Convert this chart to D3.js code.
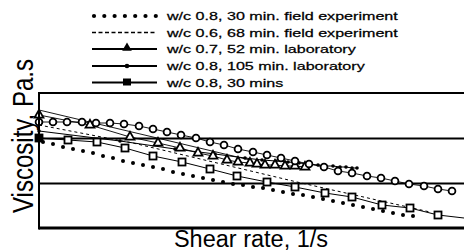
<!DOCTYPE html>
<html><head><meta charset="utf-8">
<script src="https://cdn.jsdelivr.net/npm/d3@7"></script>
<style>
body{margin:0;background:#fff}
svg{display:block}
text{font-family:"Liberation Sans",Arial,sans-serif;fill:#000}
</style>
</head><body>
<svg id="c" width="464" height="251"></svg>
<script>
// ---- data (shear rate in arbitrary units, viscosity in arbitrary units) ----
const legendLabels = [
  "w/c 0.8, 30 min. field experiment",
  "w/c 0.6, 68 min. field experiment",
  "w/c 0.7, 52 min. laboratory",
  "w/c 0.8, 105 min. laboratory",
  "w/c 0.8, 30 mins"
];
const xLabel = "Shear rate, 1/s";
const yLabel = "Viscosity, Pa.s";
const gridValues = [45, 90];

const field30X = [4,14,24,34,44,54,64,74,84,94,104,114,124,134,144,154,164,174,184,194,204,214,224,234,244,254,264,274,284,294,304,314,324,334,344,354,364,374];
const field30Y = [86,84,81,79,77,75,72,70,67,65,63,61,59,56,54,52,50,48,46,44,43,41,40,38,36,34,33,31,29,27,25,23,21,19,17,15,13,12];

const field68X = [0,94,258,391];
const field68Y = [103,85,46,16];

const lab52X = [0,51,91,119,141,159,174,188,199,211,218,226,236,246,256,266];
const lab52Y = [113,103,91,85,80,75,72,68,66,65,64,63,63,62,62,61];
const lab52FitX = [0,211];
const lab52FitY = [118,68];

const lab105X = [0,81,136,176,206,223,237,249,260,270,279,287,294,301,307,313,318];
const lab105Y = [97,87,79,74,70,68,67,66,65,64,63,62,62,61,61,60,60];

const mins30X = [0,29,58,86,114,143,171,198,228,256,286,313,343,371,399,425];
const mins30Y = [90,88,86,80,72,66,59,52,46,41,35,31,23,20,13,10];
const mins30Markers = 15; // last point is the line end, no marker

const circX = [0,14,28,43,57,71,85,100,114,128,142,157,171,185,199,214,228,242,256,270,285,299,313,328,342,356,370,385,399,413];
const circY = [106,106,106,106,105,105,104,102,99,96,93,90,86,83,79,76,73,70,67,64,61,57,55,52,50,47,44,42,39,37];

// ---- drawing ----
const svg = d3.select("#c");
const x = d3.scaleLinear().domain([0,425]).range([39,464]);
const y = d3.scaleLinear().domain([0,135]).range([228,93]);
const zip = (a,b) => a.map((v,i)=>[v,b[i]]);
const line = d3.line().x(d=>x(d[0])).y(d=>y(d[1]));

// grid lines
svg.append("g").attr("transform","translate(39,0)")
  .call(d3.axisLeft(y).tickValues(gridValues).tickSize(-425).tickFormat(""))
  .call(g=>g.select(".domain").remove())
  .call(g=>g.selectAll("line").attr("stroke","#000").attr("stroke-width",2));

const plot = svg.append("g");

// thin lines
plot.append("path").attr("d", line(zip(circX,circY))).attr("fill","none").attr("stroke","#000").attr("stroke-width",0.9);
plot.append("path").attr("d", line(zip(lab52FitX,lab52FitY))).attr("fill","none").attr("stroke","#000").attr("stroke-width",0.9);
plot.append("path").attr("d", line(zip(lab52X,lab52Y))).attr("fill","none").attr("stroke","#000").attr("stroke-width",0.9);
plot.append("path").attr("d", line(zip(lab105X,lab105Y))).attr("fill","none").attr("stroke","#000").attr("stroke-width",1.2);
plot.append("path").attr("d", line(zip(mins30X,mins30Y))).attr("fill","none").attr("stroke","#000").attr("stroke-width",1);
plot.append("path").attr("d", line(zip(field68X,field68Y))).attr("fill","none").attr("stroke","#000").attr("stroke-width",1).attr("stroke-dasharray","3,3");

// field 30 dots
plot.selectAll(".fd").data(zip(field30X,field30Y)).join("circle")
  .attr("cx",d=>x(d[0])).attr("cy",d=>y(d[1])).attr("r",2).attr("fill","#000");

// 105 markers
plot.selectAll(".m105").data(zip(lab105X,lab105Y)).join("circle")
  .attr("cx",d=>x(d[0])).attr("cy",d=>y(d[1])).attr("r",1.8).attr("fill","#000");

// triangles
const tri = d3.symbol().type(d3.symbolTriangle).size(34);
plot.selectAll(".tr").data(zip(lab52X,lab52Y)).join("path")
  .attr("d",tri).attr("transform",d=>`translate(${x(d[0])},${y(d[1])})`)
  .attr("fill","#fff").attr("stroke","#000").attr("stroke-width",1.8);

// squares
plot.selectAll(".sq").data(zip(mins30X,mins30Y).slice(0,mins30Markers)).join("rect")
  .attr("x",d=>x(d[0])-3.5).attr("y",d=>y(d[1])-3.5).attr("width",7).attr("height",7)
  .attr("fill",(d,i)=>i===0?"#000":"#fff").attr("stroke","#000").attr("stroke-width",1.8);

// circles
plot.selectAll(".ci").data(zip(circX,circY)).join("circle")
  .attr("cx",d=>x(d[0])).attr("cy",d=>y(d[1])).attr("r",3.4)
  .attr("fill","#fff").attr("stroke","#000").attr("stroke-width",1.8);

// frame
svg.append("line").attr("x1",x(0)).attr("x2",x(425)).attr("y1",y(135)).attr("y2",y(135)).attr("stroke","#000").attr("stroke-width",2);
svg.append("line").attr("x1",x(0)).attr("x2",x(425)).attr("y1",y(0)).attr("y2",y(0)).attr("stroke","#000").attr("stroke-width",3);
svg.append("line").attr("x1",x(0)).attr("x2",x(0)).attr("y1",y(135)-1).attr("y2",y(0)+1.5).attr("stroke","#000").attr("stroke-width",2);

// axis labels
svg.append("text").attr("x",251).attr("y",247).attr("text-anchor","middle")
  .attr("font-size",23.5).text(xLabel);
svg.append("text").attr("transform","translate(33,136) rotate(-90) scale(0.83,1)")
  .attr("text-anchor","middle").attr("font-size",29).text(yLabel);

// legend
const rowY = [16, 32.5, 49, 66, 82.5];
const lg = svg.append("g");
legendLabels.forEach((lab,i)=>{
  const cy = rowY[i];
  const g = lg.append("g");
  if(i===0){
    g.selectAll("circle").data(d3.range(7)).join("circle")
      .attr("cx",k=>94+k*10.3).attr("cy",cy).attr("r",2.1).attr("fill","#000");
  } else if(i===1){
    g.append("line").attr("x1",92).attr("x2",157).attr("y1",cy).attr("y2",cy)
      .attr("stroke","#000").attr("stroke-width",1.5).attr("stroke-dasharray","4,2.5");
  } else {
    g.append("line").attr("x1",92).attr("x2",157).attr("y1",cy).attr("y2",cy)
      .attr("stroke","#000").attr("stroke-width",1.8);
    if(i===2) g.append("path").attr("d",d3.symbol().type(d3.symbolTriangle).size(40)())
      .attr("transform",`translate(127,${cy-1})`).attr("fill","#000");
    if(i===3) g.append("circle").attr("cx",127).attr("cy",cy).attr("r",2.3).attr("fill","#000");
    if(i===4) g.append("rect").attr("x",123).attr("y",cy-4).attr("width",8).attr("height",7).attr("fill","#000");
  }
  g.append("text").attr("transform",`translate(167,${cy+4}) scale(1.4,1)`)
    .attr("font-size",11.5).attr("stroke","#000").attr("stroke-width",0.25).text(lab);
});
</script>
</body></html>
